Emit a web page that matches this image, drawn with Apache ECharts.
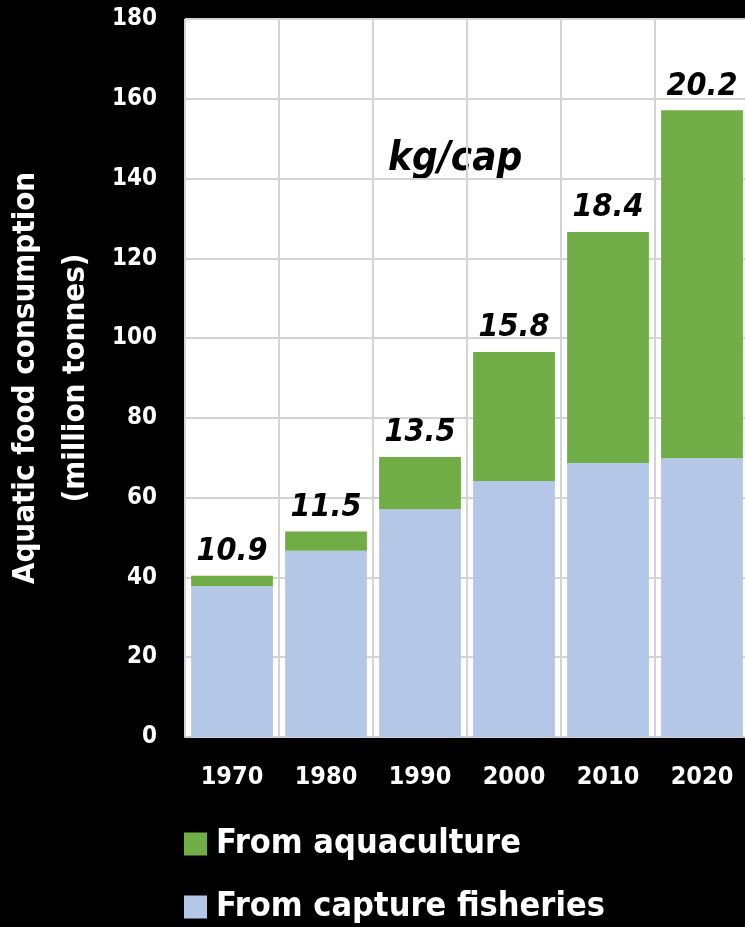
<!DOCTYPE html>
<html>
<head>
<meta charset="utf-8">
<script src="https://cdn.jsdelivr.net/npm/echarts@6/dist/echarts.min.js"></script>
<style>
    html, body {margin: 0; padding: 0; background: #000;}
    #chart {width: 745px; height: 927px;}
</style>
</head>
<body>
<div id="chart"></div>
<script>
const FONT = '"Liberation Sans Narrow", "DejaVu Sans Condensed", "Roboto", sans-serif';

// ------------------ data ------------------
const years = ['1970', '1980', '1990', '2000', '2010', '2020'];
const capture = [37.8, 46.7, 57.1, 64.2, 68.7, 69.9];     // million tonnes
const aquaculture = [2.6, 4.8, 13.1, 32.3, 57.9, 87.2];   // million tonnes
const kgPerCap = ['10.9', '11.5', '13.5', '15.8', '18.4', '20.2'];
const yTicks = [0, 20, 40, 60, 80, 100, 120, 140, 160, 180];

let myChart = echarts.init(document.getElementById('chart'));

let legendText = {color: '#fff', fontSize: 34, fontWeight: 'bold', fontFamily: FONT, padding: [0, 0, 0, 4]};

let option = {
    backgroundColor: '#000',
    animation: false,
    textStyle: {fontFamily: FONT},
    grid: {
        left: 185, top: 19, width: 564, height: 718,
        outerBoundsMode: 'none',
        containLabel: false,
        show: true, backgroundColor: '#fff', borderWidth: 0
    },
    legend: [{
        left: 179, top: 822,
        itemWidth: 23, itemHeight: 23,
        data: ['From aquaculture'],
        textStyle: legendText,
        icon: 'rect'
    }, {
        left: 179, top: 885,
        itemWidth: 23, itemHeight: 23,
        data: ['From capture fisheries'],
        textStyle: legendText,
        icon: 'rect'
    }],
    graphic: [{
        type: 'text',
        left: 388, top: 140,
        style: {text: 'kg/cap', fill: '#000', font: 'italic bold 40px ' + FONT}
    }],
    xAxis: {
        type: 'category',
        data: years,
        axisLine: {lineStyle: {color: '#cfcfcf', width: 2}},
        axisTick: {show: false},
        axisLabel: {color: '#fff', fontSize: 25, fontWeight: 'bold', margin: 28},
        splitLine: {show: true, lineStyle: {color: '#d4d4d4', width: 2}}
    },
    yAxis: {
        type: 'value',
        min: yTicks[0], max: yTicks[yTicks.length - 1], interval: 20,
        name: 'Aquatic food consumption\n(million tonnes)',
        nameLocation: 'middle',
        nameGap: 80,
        nameTextStyle: {color: '#fff', fontSize: 31, fontWeight: 'bold', lineHeight: 50},
        axisLine: {show: false},
        axisTick: {show: false},
        axisLabel: {color: '#fff', fontSize: 24, fontWeight: 'bold', margin: 28},
        splitLine: {lineStyle: {color: '#d4d4d4', width: 2}}
    },
    series: [
        {
            name: 'From capture fisheries',
            type: 'bar',
            stack: 'total',
            barCategoryGap: '13%',
            itemStyle: {color: '#b4c7e7'},
            data: capture
        },
        {
            name: 'From aquaculture',
            type: 'bar',
            stack: 'total',
            barCategoryGap: '13%',
            itemStyle: {color: '#70ad47'},
            label: {
                show: true,
                position: 'top',
                distance: 8,
                color: '#000',
                fontSize: 32,
                fontWeight: 'bold',
                fontStyle: 'italic',
                formatter: function (p) {
                    return kgPerCap[p.dataIndex];
                }
            },
            data: aquaculture
        }
    ]
};

myChart.setOption(option);
</script>
</body>
</html>
